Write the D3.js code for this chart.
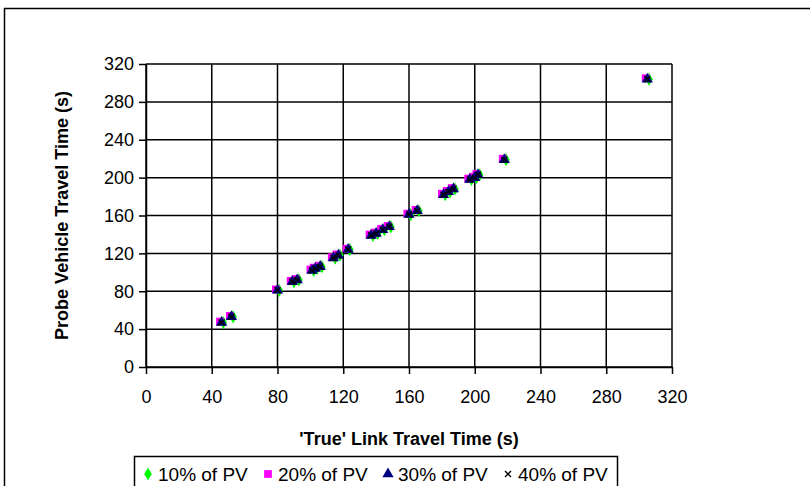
<!DOCTYPE html>
<html>
<head>
<meta charset="utf-8">
<script src="https://cdn.jsdelivr.net/npm/d3@7"></script>
<style>
  body { margin: 0; background: #fff; }
  svg { display: block; }
</style>
</head>
<body>
<div id="chart"></div>
<script>
// 'True' link travel time (s) vs probe vehicle travel time (s), one array per PV share
const series = ["10% of PV", "20% of PV", "30% of PV", "40% of PV"];

const true10 = [47, 53, 81, 90, 93, 102, 104, 107, 115, 118, 124, 138, 141, 145, 149, 161, 166, 182, 185, 188, 198, 201, 203, 219, 306];
const pv10   = [47, 53, 81, 90, 92, 102, 104, 106, 115, 118, 124, 139, 141, 145, 148, 161, 165, 182, 185, 188, 198, 200, 203, 219, 304];

const true20 = [45, 51, 79, 88, 91, 100, 102, 105, 113, 116, 122, 136, 139, 143, 147, 159, 164, 180, 183, 186, 196, 199, 201, 217, 304];
const pv20   = [48, 54, 82, 91, 93, 103, 105, 107, 116, 119, 125, 140, 142, 146, 149, 162, 166, 183, 186, 189, 199, 201, 204, 220, 305];

const true30 = [46, 52, 80, 89, 92, 101, 103, 106, 114, 117, 123, 137, 140, 144, 148, 160, 165, 181, 184, 187, 197, 200, 202, 218, 305];
const pv30   = [47, 53, 81, 90, 92, 102, 104, 106, 115, 118, 124, 139, 141, 145, 148, 161, 165, 182, 185, 188, 198, 200, 203, 219, 304];

const true40 = [46, 52, 80, 89, 92, 101, 103, 106, 114, 117, 123, 137, 140, 144, 148, 160, 165, 181, 184, 187, 197, 200, 202, 218, 305];
const pv40   = [47, 53, 81, 90, 92, 102, 104, 106, 115, 118, 124, 139, 141, 145, 148, 161, 165, 182, 185, 188, 198, 200, 203, 219, 304];

const tickValues = [0, 40, 80, 120, 160, 200, 240, 280, 320];

const width = 810, height = 486;
const plot = { left: 146, right: 672, top: 64, bottom: 367 };

const x = d3.scaleLinear().domain([0, 320]).range([plot.left, plot.right]);
const y = d3.scaleLinear().domain([0, 320]).range([plot.bottom, plot.top]);

const svg = d3.select("#chart").append("svg")
    .attr("width", width)
    .attr("height", height)
    .style("font-family", "Arial, 'Liberation Sans', sans-serif");

// chart frame (runs off the right and bottom edges)
svg.append("rect")
    .attr("x", 4.5).attr("y", 8.5)
    .attr("width", 900).attr("height", 600)
    .attr("fill", "#fff")
    .attr("stroke", "#000")
    .attr("stroke-width", 1.5);

// gridlines
const grid = svg.append("g").attr("stroke", "#000").attr("stroke-width", 1.5);
grid.selectAll("line.v")
  .data(tickValues)
  .enter().append("line")
    .attr("x1", d => x(d)).attr("x2", d => x(d))
    .attr("y1", plot.top).attr("y2", plot.bottom);
grid.selectAll("line.h")
  .data(tickValues)
  .enter().append("line")
    .attr("x1", plot.left).attr("x2", plot.right)
    .attr("y1", d => y(d)).attr("y2", d => y(d));

// axes
const xAxis = svg.append("g")
    .attr("transform", `translate(0,${plot.bottom})`)
    .call(d3.axisBottom(x).tickValues(tickValues).tickSizeInner(7).tickSizeOuter(0).tickPadding(16));
const yAxis = svg.append("g")
    .attr("transform", `translate(${plot.left},0)`)
    .call(d3.axisLeft(y).tickValues(tickValues).tickSizeInner(7).tickSizeOuter(0).tickPadding(5));
[xAxis, yAxis].forEach(a => {
  a.selectAll("path, line").attr("stroke", "#000").attr("stroke-width", 1.5);
  a.selectAll("text").attr("fill", "#000").style("font-size", "18px");
});

// axis titles
svg.append("text")
    .attr("x", (plot.left + plot.right) / 2)
    .attr("y", 445)
    .attr("text-anchor", "middle")
    .style("font-size", "18px")
    .style("font-weight", "bold")
    .text("'True' Link Travel Time (s)");
svg.append("text")
    .attr("transform", `translate(68,${(plot.top + plot.bottom) / 2}) rotate(-90)`)
    .attr("text-anchor", "middle")
    .style("font-size", "18px")
    .style("font-weight", "bold")
    .text("Probe Vehicle Travel Time (s)");

// markers
const symbols = [
  { sym: d3.symbolDiamond, size: 50, fill: "#00ff00" },
  { sym: d3.symbolSquare, size: 60, fill: "#ff00ff" },
  { sym: d3.symbolTriangle, size: 55, fill: "#000080" },
  { sym: null, size: 0, fill: "none" }
];
const xs = [true10, true20, true30, true40];
const ys = [pv10, pv20, pv30, pv40];

function drawMarker(g, i) {
  if (i === 3) {
    g.append("path")
        .attr("d", "M-3,-3L3,3M-3,3L3,-3")
        .attr("stroke", "#000")
        .attr("stroke-width", 1.4);
  } else {
    g.append("path")
        .attr("d", d3.symbol(symbols[i].sym, symbols[i].size)())
        .attr("fill", symbols[i].fill);
  }
}

series.forEach((s, i) => {
  const pts = xs[i].map((v, j) => [v, ys[i][j]]);
  svg.append("g").selectAll("g")
    .data(pts)
    .enter().append("g")
      .attr("transform", d => `translate(${x(d[0])},${y(d[1])})`)
      .each(function() { drawMarker(d3.select(this), i); });
});

// legend
const legend = svg.append("g");
legend.append("rect")
    .attr("x", 134.5).attr("y", 456.5)
    .attr("width", 483).attr("height", 60)
    .attr("fill", "#fff")
    .attr("stroke", "#000")
    .attr("stroke-width", 1.5);
const item = legend.selectAll("g.item")
  .data(series)
  .enter().append("g")
    .attr("transform", (d, i) => `translate(${148 + i * 120},474)`);
item.each(function(d, i) { drawMarker(d3.select(this), i); });
item.append("text")
    .attr("x", 10)
    .attr("dy", "0.35em")
    .style("font-size", "19px")
    .text(d => d);
</script>
</body>
</html>
